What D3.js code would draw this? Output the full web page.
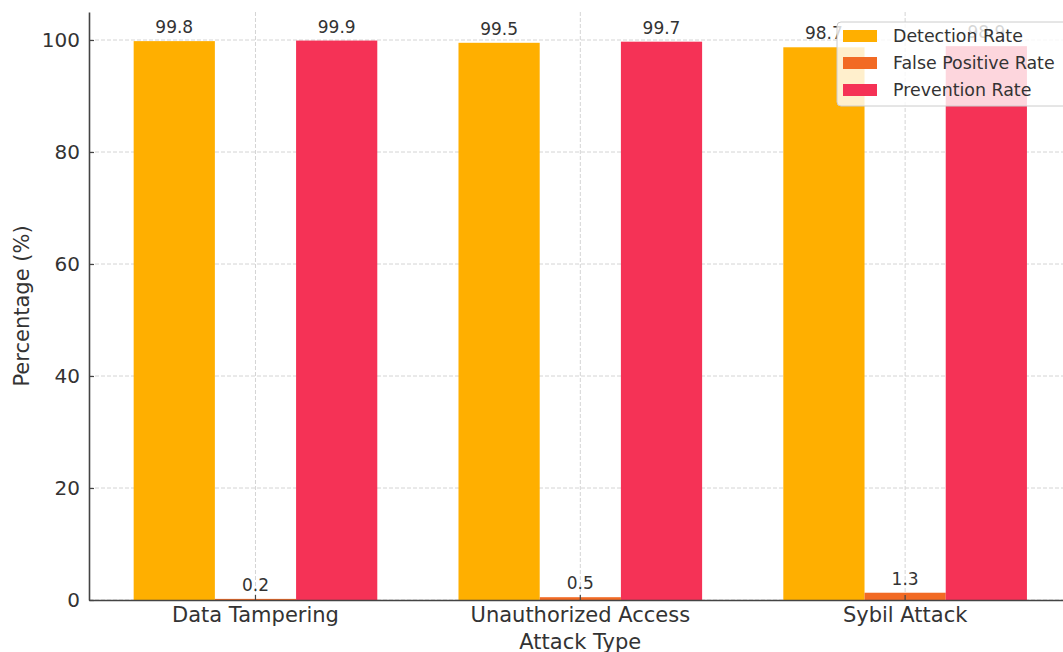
<!DOCTYPE html>
<html>
<head>
<meta charset="utf-8">
<script src="https://cdn.jsdelivr.net/npm/d3@7"></script>
<style>
  html, body { margin: 0; padding: 0; background: #fff; }
  svg { display: block; font-family: "DejaVu Sans", sans-serif; }
</style>
</head>
<body>
<svg id="chart" width="1063" height="652"></svg>
<script>
const categories = ["Data Tampering", "Unauthorized Access", "Sybil Attack"];
const seriesNames = ["Detection Rate", "False Positive Rate", "Prevention Rate"];
const detectionRate = [99.8, 99.5, 98.7];
const falsePositiveRate = [0.2, 0.5, 1.3];
const preventionRate = [99.9, 99.7, 98.9];
const yTicks = [0, 20, 40, 60, 80, 100];
const colors = ["#FFAF00", "#F26A24", "#F53256"];

const seriesValues = [detectionRate, falsePositiveRate, preventionRate];

const svg = d3.select("#chart");
const mLeft = 89, mRight = 1071.6, mTop = 12, mBottom = 600;

const x0 = d3.scaleBand().domain(categories).range([mLeft, mRight])
  .paddingInner(0.25).paddingOuter(0.1375);
const x1 = d3.scaleBand().domain(seriesNames).range([0, x0.bandwidth()]).padding(0);
const y = d3.scaleLinear().domain([0, 105]).range([mBottom, mTop]);
const color = d3.scaleOrdinal().domain(seriesNames).range(colors);

// grid
const grid = svg.append("g");
grid.selectAll("line.h").data(yTicks).join("line").attr("class", "h")
  .attr("x1", mLeft).attr("x2", mRight)
  .attr("y1", d => y(d)).attr("y2", d => y(d))
  .attr("stroke", "#d4d4d4").attr("stroke-width", 1).attr("stroke-dasharray", "4,2");
grid.selectAll("line.v").data(categories).join("line").attr("class", "v")
  .attr("x1", d => x0(d) + x0.bandwidth() / 2).attr("x2", d => x0(d) + x0.bandwidth() / 2)
  .attr("y1", mTop).attr("y2", mBottom)
  .attr("stroke", "#d4d4d4").attr("stroke-width", 1).attr("stroke-dasharray", "4,2");

// bars
const rows = [];
categories.forEach((c, i) => seriesNames.forEach((s, j) => rows.push({ c, s, v: seriesValues[j][i] })));

svg.append("g").selectAll("rect").data(rows).join("rect")
  .attr("x", d => x0(d.c) + x1(d.s))
  .attr("width", x1.bandwidth())
  .attr("y", d => y(d.v))
  .attr("height", d => y(0) - y(d.v))
  .attr("fill", d => color(d.s));

// value labels
svg.append("g").selectAll("text").data(rows).join("text")
  .attr("x", d => x0(d.c) + x1(d.s) + x1.bandwidth() / 2)
  .attr("y", d => y(d.v) - 8)
  .attr("text-anchor", "middle")
  .attr("font-size", 17)
  .attr("fill", "#333")
  .text(d => d.v.toFixed(1));

// axes
const yAxis = svg.append("g").attr("transform", `translate(${mLeft},0)`)
  .call(d3.axisLeft(y).tickValues(yTicks).tickSizeInner(-5).tickSizeOuter(0).tickPadding(9));
const xAxis = svg.append("g").attr("transform", `translate(0,${mBottom})`)
  .call(d3.axisBottom(x0).tickSizeInner(-5).tickSizeOuter(0).tickPadding(7));
[yAxis, xAxis].forEach(a => {
  a.select(".domain").attr("stroke", "#444").attr("stroke-width", 1.6);
  a.selectAll(".tick line").attr("stroke", "#444").attr("stroke-width", 1.2);
  a.selectAll(".tick text").attr("fill", "#333")
    .attr("font-family", "DejaVu Sans, sans-serif");
});
yAxis.selectAll(".tick text").attr("font-size", 20);
xAxis.selectAll(".tick text").attr("font-size", 21);

// axis titles
svg.append("text")
  .attr("transform", `translate(29,${(mTop + mBottom) / 2}) rotate(-90)`)
  .attr("text-anchor", "middle").attr("font-size", 21).attr("fill", "#333")
  .text("Percentage (%)");
svg.append("text")
  .attr("x", (mLeft + mRight) / 2).attr("y", 649)
  .attr("text-anchor", "middle").attr("font-size", 21).attr("fill", "#333")
  .text("Attack Type");

// legend
const lg = svg.append("g");
lg.append("rect").attr("x", 837).attr("y", 22).attr("width", 230).attr("height", 84)
  .attr("rx", 4).attr("fill", "#fff").attr("fill-opacity", 0.8)
  .attr("stroke", "#cccccc").attr("stroke-width", 1);
const items = lg.selectAll("g.item").data(seriesNames).join("g").attr("class", "item")
  .attr("transform", (d, i) => `translate(843,${36 + i * 27})`);
items.append("rect").attr("x", 0).attr("y", -6).attr("width", 34).attr("height", 12)
  .attr("fill", d => color(d));
items.append("text").attr("x", 50).attr("y", 0).attr("dy", "0.35em")
  .attr("font-size", 17.4).attr("fill", "#333").text(d => d);
</script>
</body>
</html>
